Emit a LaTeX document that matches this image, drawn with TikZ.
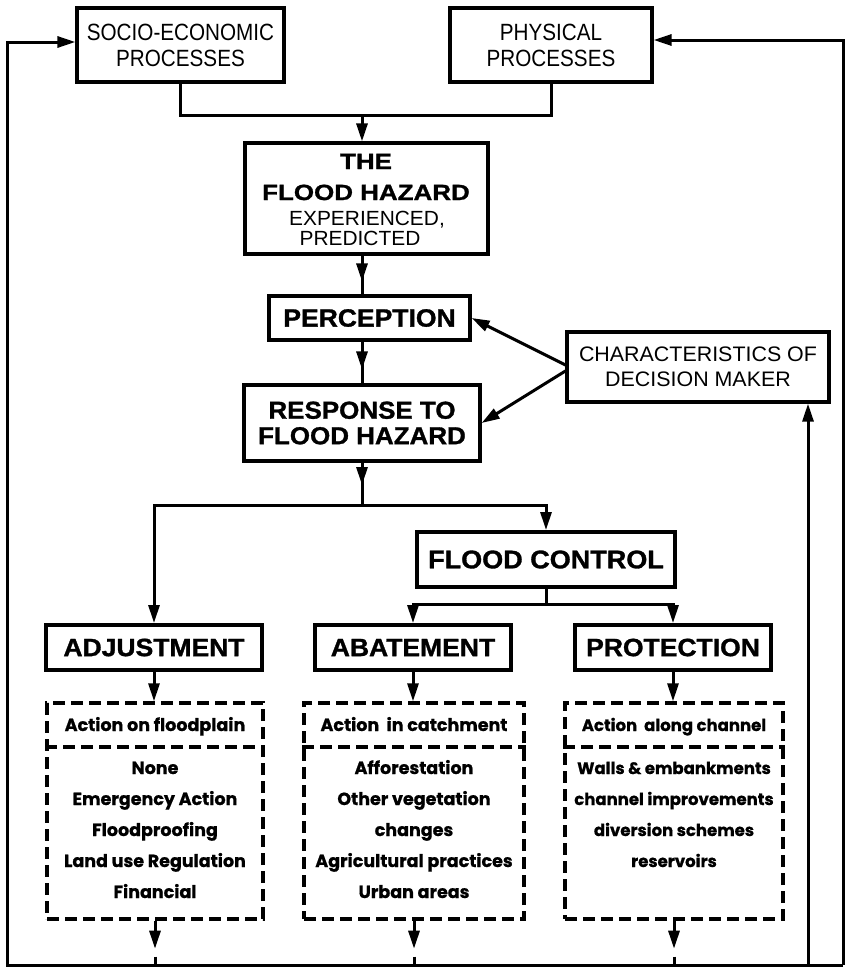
\documentclass[tikz,border=0pt]{standalone}
\usepackage{fontspec}
\setmainfont{Liberation Sans}
\newfontfamily\fnar{Liberation Sans}[FakeStretch=0.88]
\newfontfamily\fchr{Liberation Sans}[FakeStretch=1.02]
\newfontfamily\fbd{Liberation Sans}[FakeStretch=1.06, BoldFeatures={FakeBold=1.2}]
\newfontfamily\fwd{Liberation Sans}[FakeStretch=1.18, BoldFeatures={FakeBold=1.2}]
\newfontfamily\fitm{Poppins}[BoldFeatures={FakeBold=0.8}]
\usetikzlibrary{arrows.meta,decorations.markings}
\begin{document}
\begin{tikzpicture}[x=1pt,y=-1pt,
  box/.style={draw, line width=3.2pt, inner sep=0pt, align=center},
  hbox/.style={draw, line width=4pt, inner sep=0pt, align=center},
  dbox/.style={draw, line width=3.4pt, dash pattern=on 12pt off 6pt, inner sep=0pt},
  dline/.style={line width=3.4pt, dash pattern=on 12pt off 6pt},
  conn/.style={line width=3pt},
  tip/.style={-{Triangle[length=18pt,width=11pt]}},
  midtip/.style={postaction={decorate}, decoration={markings, mark=at position #1 with {\arrow{Triangle[length=18pt,width=11pt]}}}},
  item/.style={font=\fitm\bfseries\fontsize{17.5}{17.5}\selectfont, anchor=base, inner sep=0pt},
  itemc/.style={font=\fitm\bfseries\fontsize{16.5}{16.5}\selectfont, anchor=base, inner sep=0pt},
  hzb/.style={font=\fwd\bfseries\fontsize{22}{22}\selectfont, anchor=base, inner sep=0pt},
  hzr/.style={font=\fchr\fontsize{20.5}{20}\selectfont, anchor=base, inner sep=0pt},
  bigb/.style={font=\fbd\bfseries\fontsize{25}{26}\selectfont}
]
\useasboundingbox (0,0) rectangle (845,969);

% top boxes
\node[box, minimum width=207pt, minimum height=74pt, font=\fnar\fontsize{23.5}{26}\selectfont] (socio) at (180.5,45) {SOCIO-ECONOMIC\\PROCESSES};
\node[box, minimum width=202pt, minimum height=74pt, font=\fnar\fontsize{23.5}{26}\selectfont] (phys) at (551,45) {PHYSICAL\\PROCESSES};

% flood hazard
\node[box, minimum width=243pt, minimum height=111pt] (haz) at (366.5,198.5) {};
\node[hzb] (hz1) at (366,169) {THE};
\node[hzb] (hz2) at (366,200) {FLOOD HAZARD};
\node[hzr] (hz3) at (367,225) {EXPERIENCED,};
\node[hzr] (hz4) at (360,245) {PREDICTED};

\node[box, bigb, minimum width=201pt, minimum height=44pt] (perc) at (369.5,318) {PERCEPTION};
\node[box, minimum width=236pt, minimum height=76pt, font=\fbd\bfseries\fontsize{24.5}{25.5}\selectfont] (resp) at (362,423) {RESPONSE TO\\FLOOD HAZARD};
\node[box, minimum width=262pt, minimum height=70pt, font=\fchr\fontsize{21}{25}\selectfont] (chr) at (698,367) {CHARACTERISTICS OF\\DECISION MAKER};

\node[hbox, minimum width=258pt, minimum height=55pt, font=\fbd\bfseries\fontsize{25.5}{26}\selectfont] (fc) at (546,559.5) {FLOOD CONTROL};
\node[hbox, bigb, minimum width=216pt, minimum height=45pt] (adj) at (154,647.5) {ADJUSTMENT};
\node[hbox, bigb, minimum width=196pt, minimum height=45pt] (aba) at (413,647.5) {ABATEMENT};
\node[hbox, bigb, minimum width=196pt, minimum height=45pt] (pro) at (673,647.5) {PROTECTION};

% dashed boxes
\node[dbox, minimum width=216pt, minimum height=216pt] (dA) at (155,811) {};
\node[dbox, minimum width=220pt, minimum height=216pt] (dB) at (414,811) {};
\node[dbox, minimum width=218pt, minimum height=216pt] (dC) at (674,811) {};
\coordinate (dv) at (0,747);
\foreach \d in {dA,dB,dC} \draw[dline] (\d.west |- dv) -- (\d.east |- dv);

\node[item] (hA) at (155,731) {Action on floodplain};
\node[item] (hB) at (414,731) {Action\ \ in catchment};
\node[itemc] (hC) at (674,731) {Action\ \ along channel};
\foreach \t [count=\i] in {None,Emergency Action,Floodproofing,Land use Regulation,Financial}
  \node[item] (ia\i) at (155,{743+31*\i}) {\t};
\foreach \t [count=\i] in {Afforestation,Other vegetation,changes,Agricultural practices,Urban areas}
  \node[item] (ib\i) at (414,{743+31*\i}) {\t};
\foreach \t [count=\i] in {Walls \& embankments,channel improvements,diversion schemes,reservoirs}
  \node[itemc] (ic\i) at (674,{743+31*\i}) {\t};

% connectors
\coordinate (j0) at (362,115);
\draw[conn] (socio.south) |- (j0) -| (phys.south);
\draw[conn,tip] (j0) -- (j0 |- haz.north);
\draw[conn,midtip=-13pt] (j0 |- haz.south) -- (j0 |- perc.north);
\draw[conn,midtip=-14pt] (j0 |- perc.south) -- (j0 |- resp.north);
\coordinate (j1) at (362,505);
\draw[conn,midtip=-20pt] (resp.south) -- (j1);
\draw[conn,tip] (j1) -| (adj.north);
\draw[conn,tip] (j1) -| (fc.north);
\coordinate (j2) at (546,604);
\draw[conn] (fc.south) -- (j2);
\draw[conn,tip] (j2) -| (aba.north);
\draw[conn,tip] (j2) -| (pro.north);

\draw[conn,tip] ([yshift=2pt]chr.west) -- (perc.east);
\draw[conn,tip] ([yshift=-4pt]chr.west) -- (resp.east);

\draw[conn,tip] (adj.south) -- (adj.south |- dA.north);
\draw[conn,tip] (aba.south) -- (aba.south |- dB.north);
\draw[conn,tip] (pro.south) -- (pro.south |- dC.north);

% feedback loop
\coordinate (BL) at (7,965);
\coordinate (BR) at (843,965);
\coordinate (TL) at (7,42);
\coordinate (TR) at (843,40);
\coordinate (cB) at (808,965);
\draw[conn,tip] (BR) -- (BL) -- (TL) -- (socio.west |- TL);
\draw[conn,tip] (BR) -- (TR) -- (phys.east |- TR);
\draw[conn,tip] (cB) -- (cB |- chr.south);

\foreach \d in {dA,dB,dC} {
  \draw[conn,tip] (\d.south) -- ([yshift=-28pt]\d.south);
  \draw[conn] ([yshift=-36pt]\d.south) -- (\d.south |- BL);
}
\end{tikzpicture}
\end{document}
